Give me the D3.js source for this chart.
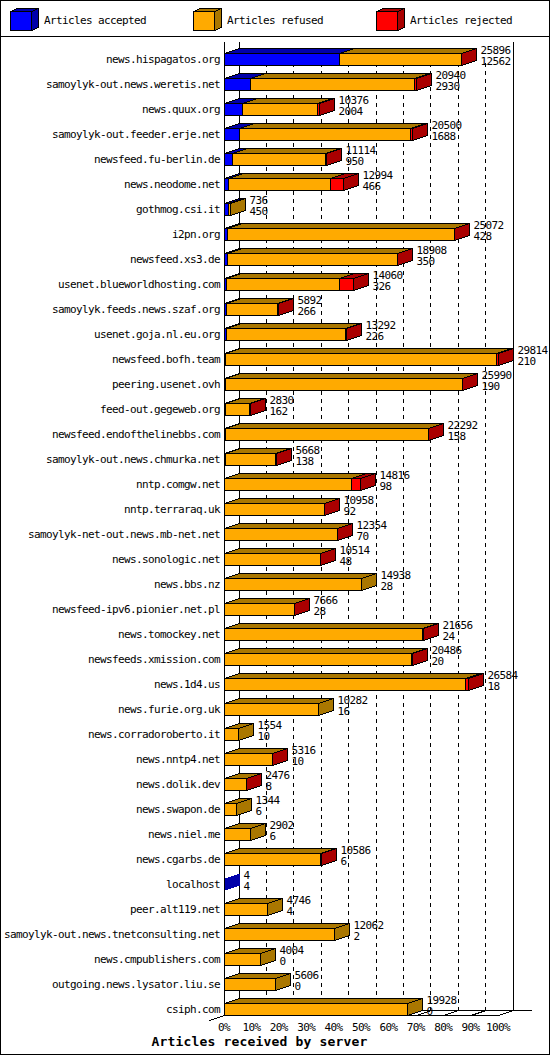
<!DOCTYPE html>
<html>
<head>
<meta charset="utf-8">
<script src="https://cdn.jsdelivr.net/npm/d3@7"></script>
<style>
  html, body { margin: 0; padding: 0; background: #fff; }
  svg { display: block; }
  text { font-family: "DejaVu Sans Mono", monospace; font-size: 11px; letter-spacing: -0.62px; fill: #000; }
  .title { font-size: 13px; font-weight: bold; letter-spacing: 0.17px; }
</style>
</head>
<body>
<svg id="chart"></svg>
<script>
const servers = ["news.hispagatos.org", "samoylyk-out.news.weretis.net", "news.quux.org", "samoylyk-out.feeder.erje.net",
  "newsfeed.fu-berlin.de", "news.neodome.net", "gothmog.csi.it", "i2pn.org", "newsfeed.xs3.de", "usenet.blueworldhosting.com",
  "samoylyk.feeds.news.szaf.org", "usenet.goja.nl.eu.org", "newsfeed.bofh.team", "peering.usenet.ovh", "feed-out.gegeweb.org",
  "newsfeed.endofthelinebbs.com", "samoylyk-out.news.chmurka.net", "nntp.comgw.net", "nntp.terraraq.uk",
  "samoylyk-net-out.news.mb-net.net", "news.sonologic.net", "news.bbs.nz", "newsfeed-ipv6.pionier.net.pl", "news.tomockey.net",
  "newsfeeds.xmission.com", "news.1d4.us", "news.furie.org.uk", "news.corradoroberto.it", "news.nntp4.net", "news.dolik.dev",
  "news.swapon.de", "news.niel.me", "news.cgarbs.de", "localhost", "peer.alt119.net", "samoylyk-out.news.tnetconsulting.net",
  "news.cmpublishers.com", "outgoing.news.lysator.liu.se", "csiph.com"];
const totals = [25896, 20940, 10376, 20500, 11114, 12994, 736, 25072, 18908, 14060, 5892, 13292, 29814, 25990, 2830, 22292, 5668,
  14816, 10958, 12354, 10514, 14938, 7666, 21656, 20486, 26584, 10282, 1554, 5316, 2476, 1344, 2902, 10586, 4, 4746, 12062, 4004, 5606, 19928];
const accepted = [12562, 2930, 2004, 1688, 950, 466, 450, 428, 350, 326, 266, 226, 210, 190, 162, 158, 138, 98, 92, 70, 48, 28, 28,
  24, 20, 18, 16, 10, 10, 8, 6, 6, 6, 4, 4, 2, 0, 0, 0];
// not printed on the chart, estimated from the width of the red part
const rejected = [20, 220, 220, 220, 110, 1450, 0, 40, 40, 1530, 30, 60, 160, 20, 90, 80, 40, 900, 40, 30, 30, 0, 20, 70, 30, 360, 0, 0,
  20, 10, 0, 0, 60, 0, 0, 0, 0, 0, 0];
const percentTicks = [0, 10, 20, 30, 40, 50, 60, 70, 80, 90, 100];
const legendLabels = ["Articles accepted", "Articles refused", "Articles rejected"];
const axisTitle = "Articles received by server";

const w = 550, h = 1055;
const depthX = 15, depthY = 5, barHalf = 6;

// colours: front, top and side of each part of a bar
const front = ["#0000ff", "#ffaa00", "#ff0000"];
const dark = ["#0000aa", "#aa7700", "#aa0000"];

const svg = d3.select("#chart").attr("width", w).attr("height", h);

const xScale = d3.scaleLinear().domain([0, d3.max(totals)]).range([224.5, 498.5]);
const pctScale = d3.scaleLinear().domain([0, 100]).range([224.5, 498.5]);
const yScale = d3.scalePoint().domain(servers).range([59, 1009]);

const snap = (v) => Math.floor(v - 0.5 + 1e-6) + 0.5;

svg.append("rect").attr("x", 0.5).attr("y", 0.5).attr("width", 549).attr("height", 1054)
  .attr("fill", "#fff").attr("stroke", "#000").attr("shape-rendering", "crispEdges");
svg.append("line").attr("x1", 0).attr("x2", w).attr("y1", 36.5).attr("y2", 36.5)
  .attr("stroke", "#000").attr("shape-rendering", "crispEdges");

// a box with its top and right faces
function box(g, x0, x1, yTop, yBottom, dx, dy, i, withSide, stroke) {
  g.append("polygon")
    .attr("points", [[x0, yTop], [x0 + dx, yTop - dy], [x1 + dx, yTop - dy], [x1, yTop]].join(" "))
    .attr("fill", dark[i]).attr("stroke", stroke);
  if (withSide) {
    g.append("polygon")
      .attr("points", [[x1, yTop], [x1 + dx, yTop - dy], [x1 + dx, yBottom - dy], [x1, yBottom]].join(" "))
      .attr("fill", dark[i]).attr("stroke", stroke);
  }
  g.append("rect").attr("x", x0).attr("y", yTop).attr("width", x1 - x0).attr("height", yBottom - yTop)
    .attr("fill", front[i]).attr("stroke", stroke);
}

// legend
const legendX = [11, 194, 377];
legendLabels.forEach((label, i) => {
  const g = svg.append("g").attr("shape-rendering", "crispEdges");
  box(g, legendX[i] - 0.5, legendX[i] + 20.5, 11.5, 30.5, 7, 3, i, true, "#000");
  svg.append("text").attr("x", legendX[i] + 33).attr("y", 24).text(label);
});

// back walls and grid
const grid = svg.append("g").attr("stroke", "#000").attr("shape-rendering", "crispEdges");
grid.append("line").attr("x1", 224.5).attr("x2", 224.5).attr("y1", 42).attr("y2", 1015);
grid.append("line").attr("x1", 224.5 + depthX).attr("x2", 224.5 + depthX).attr("y1", 42).attr("y2", 1010);
grid.append("line").attr("x1", 513.5).attr("x2", 513.5).attr("y1", 42).attr("y2", 1010);
grid.append("line").attr("x1", 224.5 + depthX).attr("x2", 532).attr("y1", 1010.5).attr("y2", 1010.5);
grid.append("line").attr("x1", 224.5).attr("x2", 498).attr("y1", 1015.5).attr("y2", 1015.5);

percentTicks.slice(1, -1).forEach((p) => {
  grid.append("line").attr("x1", snap(pctScale(p) + depthX)).attr("x2", snap(pctScale(p) + depthX))
    .attr("y1", 63).attr("y2", 1010).attr("stroke-dasharray", "4 4");
});
const slants = svg.append("g").attr("stroke", "#000").attr("shape-rendering", "crispEdges");
percentTicks.forEach((p) => {
  slants.append("line")
    .attr("x1", pctScale(p) - (p === 0 ? 15 : 0)).attr("y1", p === 0 ? 1020.5 : 1015.5)
    .attr("x2", pctScale(p) + depthX).attr("y2", 1010.5);
});

// bars, accepted then refused then rejected
const bars = svg.append("g").attr("shape-rendering", "crispEdges");
servers.forEach((name, r) => {
  const cy = yScale(name);
  const yTop = cy - barHalf + 0.5, yBottom = cy + barHalf + 0.5;
  const stops = [0, accepted[r], totals[r] - rejected[r], totals[r]];
  const g = bars.append("g");
  // last part that has any value gives the colour of the end face
  const last = rejected[r] > 0 ? 2 : (stops[2] > stops[1] ? 1 : 0);
  const tiny = xScale(totals[r]) - xScale(0) < 1;
  [0, 1, 2].forEach((i) => {
    if (stops[i + 1] <= stops[i]) return;
    box(g, snap(xScale(stops[i])), snap(xScale(stops[i + 1])), yTop, yBottom, depthX, depthY, i, i === last, tiny ? "none" : "#000");
  });
});

// labels
const labels = svg.append("g");
servers.forEach((name, r) => {
  const cy = yScale(name);
  labels.append("text").attr("x", 220).attr("y", cy + 4).attr("text-anchor", "end").text(name);
  const tx = snap(xScale(totals[r])) + depthX + 4;
  labels.append("text").attr("x", tx).attr("y", cy - 5).text(totals[r]);
  labels.append("text").attr("x", tx).attr("y", cy + 6).text(accepted[r]);
});

const xAxis = d3.axisBottom(pctScale).tickValues(percentTicks).tickFormat((d) => d + "%").tickSize(0).tickPadding(0);
const axisG = svg.append("g").attr("transform", "translate(-1, 1023)").call(xAxis);
axisG.select(".domain").remove();
axisG.selectAll("text").attr("dy", "0.71em");
axisG.attr("font-family", null).attr("font-size", null);

svg.append("text").attr("class", "title").attr("x", 259.5).attr("y", 1046).attr("text-anchor", "middle").text(axisTitle);
</script>
</body>
</html>
